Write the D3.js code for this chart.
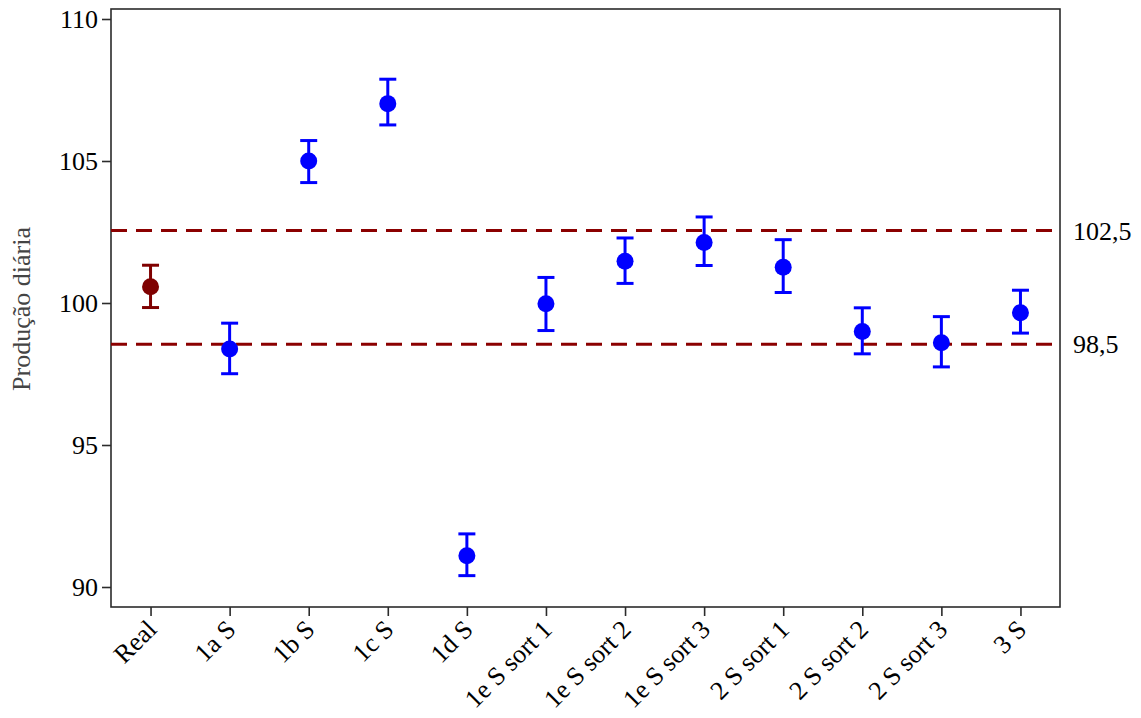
<!DOCTYPE html>
<html>
<head>
<meta charset="utf-8">
<script src="https://cdn.jsdelivr.net/npm/d3@7"></script>
<style>
  html, body { margin: 0; padding: 0; background: #fff; }
  text { font-family: "Liberation Serif", "Times New Roman", serif; }
</style>
</head>
<body>
<svg id="chart" width="1141" height="718"></svg>
<script>
// ---- data ----
const categories = ["Real", "1a S", "1b S", "1c S", "1d S", "1e S sort 1", "1e S sort 2", "1e S sort 3", "2 S sort 1", "2 S sort 2", "2 S sort 3", "3 S"];
const means = [100.57, 98.38, 105.0, 107.02, 91.1, 99.97, 101.47, 102.13, 101.26, 99.0, 98.6, 99.66];
const lower = [99.84, 97.51, 104.24, 106.27, 90.4, 99.03, 100.69, 101.32, 100.37, 98.21, 97.75, 98.94];
const upper = [101.33, 99.29, 105.72, 107.88, 91.87, 100.9, 102.29, 103.03, 102.23, 99.83, 99.52, 100.45];
const refValues = [102.55, 98.55];
const refLabels = ["102,5", "98,5"];
const yTicks = [90, 95, 100, 105, 110];
const yTitle = "Produção diária";

// ---- layout ----
const svg = d3.select("#chart");
const L = 111, R = 1060, T = 9, B = 607;

const x = d3.scalePoint().domain(categories).range([L, R]).padding(0.5);
const y = d3.scaleLinear().domain([90, 110]).range([587, 19]);

const axisColor = "#2b2b2b";
const blue = "#0000ff";
const darkRed = "#7f0000";
const serif = "Liberation Serif, Times New Roman, serif";

// frame
svg.append("rect")
  .attr("x", L).attr("y", T).attr("width", R - L).attr("height", B - T)
  .attr("fill", "none").attr("stroke", axisColor).attr("stroke-width", 1.6);

// y axis
const yAxis = svg.append("g").attr("transform", `translate(${L},0)`)
  .call(d3.axisLeft(y).tickValues(yTicks).tickSize(9).tickPadding(4).tickFormat(d3.format("d")));
yAxis.attr("font-family", serif);
yAxis.select(".domain").remove();
yAxis.selectAll(".tick line").attr("stroke", axisColor).attr("stroke-width", 1.6);
yAxis.selectAll(".tick text").attr("font-size", 26).attr("fill", "#000");

// x axis
const xAxis = svg.append("g").attr("transform", `translate(0,${B})`)
  .call(d3.axisBottom(x).tickSize(9).tickPadding(4));
xAxis.attr("font-family", serif);
xAxis.select(".domain").remove();
xAxis.selectAll(".tick line").attr("stroke", axisColor).attr("stroke-width", 1.6);
xAxis.selectAll(".tick text")
  .attr("font-size", 26).attr("fill", "#000")
  .attr("text-anchor", "end")
  .attr("x", 0).attr("y", 0).attr("dy", "0")
  .attr("transform", "translate(7,24) rotate(-45)");

// y title
svg.append("text")
  .attr("transform", `translate(30,${(225 + 393) / 2}) rotate(-90)`)
  .attr("text-anchor", "middle")
  .attr("font-family", serif)
  .attr("font-size", 26)
  .attr("fill", "#444")
  .text(yTitle);

// reference lines
svg.selectAll(".ref").data(refValues).enter().append("line")
  .attr("x1", L).attr("x2", R)
  .attr("y1", d => y(d)).attr("y2", d => y(d))
  .attr("stroke", "#8b0000").attr("stroke-width", 3)
  .attr("stroke-dasharray", "16,9");
svg.selectAll(".reflab").data(refValues).enter().append("text")
  .attr("x", R + 13).attr("y", d => y(d))
  .attr("dy", "0.35em")
  .attr("font-family", serif)
  .attr("font-size", 26).attr("fill", "#000")
  .text((d, i) => refLabels[i]);

// error bars + points
const color = (d, i) => i === 0 ? darkRed : blue;
const g = svg.append("g");
const cap = 8.5;
categories.forEach((c, i) => {
  const cx = x(c);
  const col = color(c, i);
  g.append("line").attr("x1", cx).attr("x2", cx)
    .attr("y1", y(upper[i])).attr("y2", y(lower[i]))
    .attr("stroke", col).attr("stroke-width", 3);
  g.append("line").attr("x1", cx - cap).attr("x2", cx + cap)
    .attr("y1", y(upper[i])).attr("y2", y(upper[i]))
    .attr("stroke", col).attr("stroke-width", 3);
  g.append("line").attr("x1", cx - cap).attr("x2", cx + cap)
    .attr("y1", y(lower[i])).attr("y2", y(lower[i]))
    .attr("stroke", col).attr("stroke-width", 3);
  g.append("circle").attr("cx", cx).attr("cy", y(means[i]))
    .attr("r", 8.5).attr("fill", col);
});
</script>
</body>
</html>
